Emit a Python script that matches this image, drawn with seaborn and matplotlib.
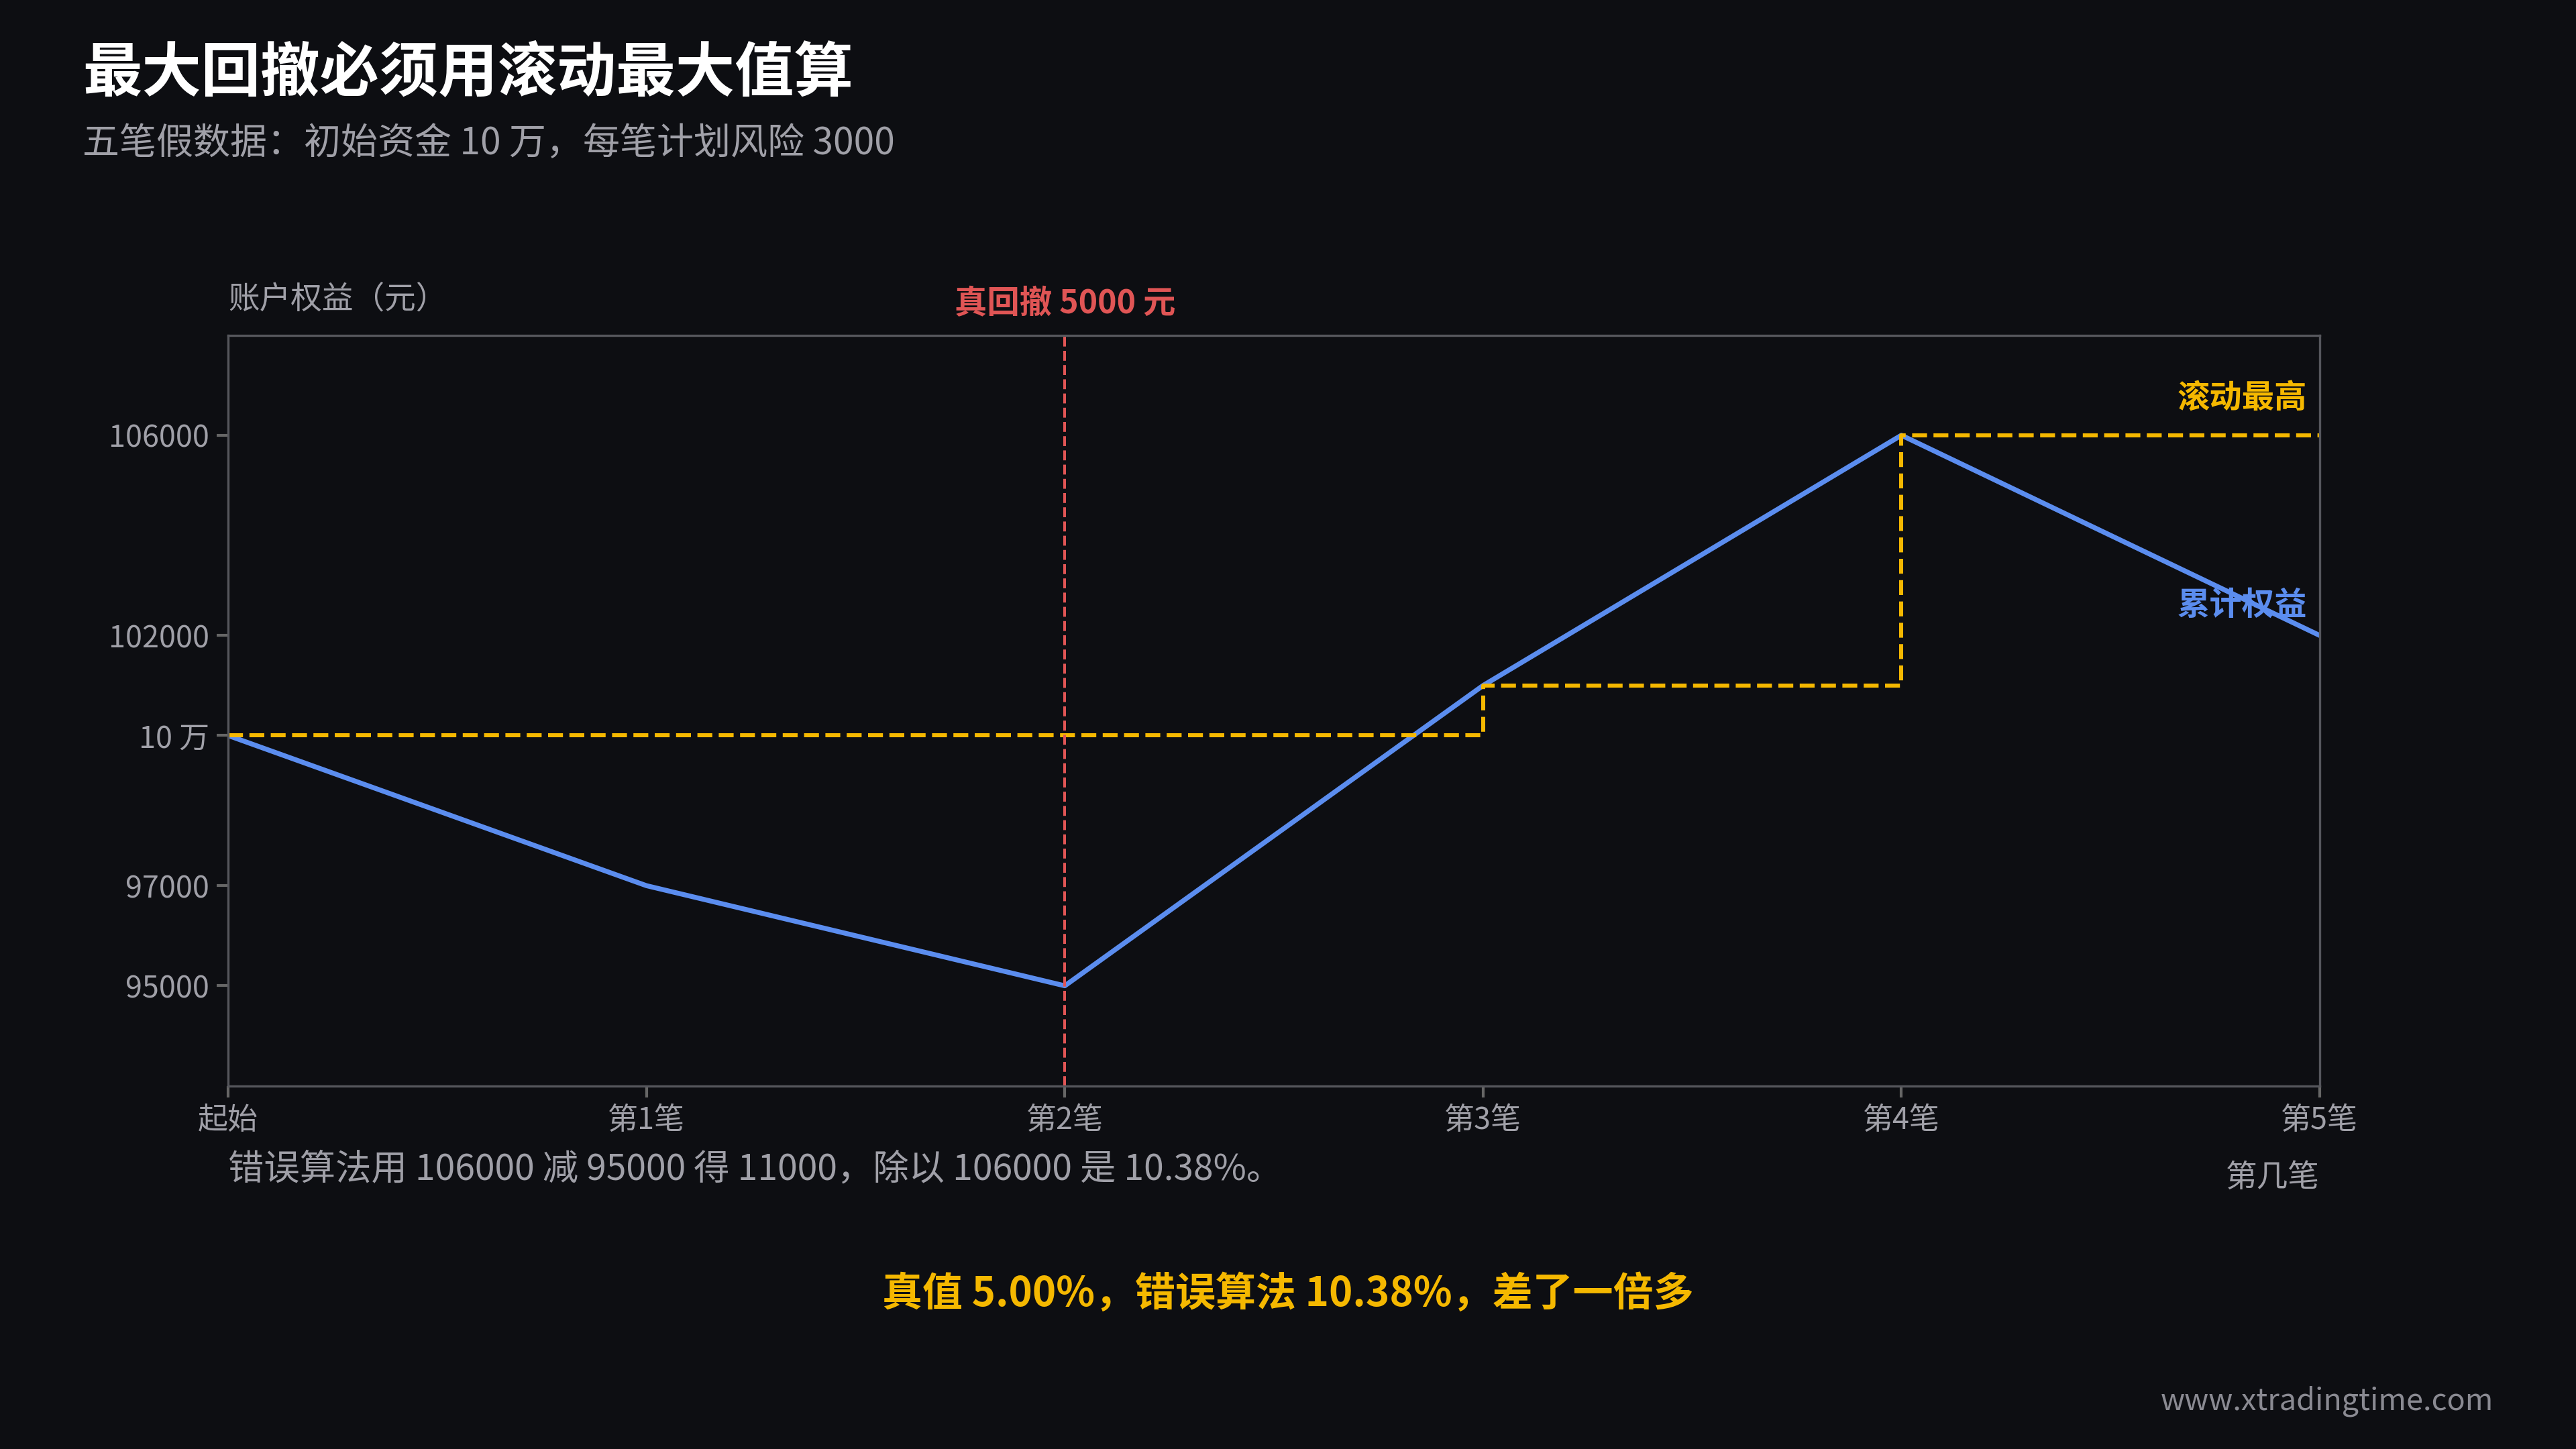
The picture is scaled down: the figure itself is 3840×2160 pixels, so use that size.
import matplotlib
matplotlib.use("Agg")
import matplotlib.pyplot as plt
import seaborn as sns
import pandas as pd

# Data
labels = ["起始", "第1笔", "第2笔", "第3笔", "第4笔", "第5笔"]
equity = [100000, 97000, 95000, 101000, 106000, 102000]
rolling_max = [100000, 100000, 100000, 101000, 106000, 106000]
yticks = [95000, 97000, 100000, 102000, 106000]
ytick_labels = ["95000", "97000", "10 万", "102000", "106000"]

bg = "#0d0e12"
blue = "#5b8def"
orange = "#f5b800"
red = "#e05555"
grey = "#a0a0a8"

sns.set_theme(style="dark")
plt.rcParams["font.family"] = ["Noto Sans CJK SC", "DejaVu Sans"]

df = pd.DataFrame({"x": range(len(labels)), "equity": equity, "peak": rolling_max})

fig = plt.figure(figsize=(16, 9), dpi=240, facecolor=bg)
ax = fig.add_axes([0.0886, 0.2506, 0.9005 - 0.0886, 0.7687 - 0.2506])
ax.set_facecolor(bg)

sns.lineplot(data=df, x="x", y="equity", ax=ax, color=blue, linewidth=2.2)
ax.step(df["x"], df["peak"], where="post", color=orange, linewidth=1.8, linestyle="--")
ax.axvline(2, color=red, linestyle="--", linewidth=1.2)

ax.set_xlim(0, 5)
ax.set_ylim(93000, 108000)
ax.set_xticks(range(len(labels)))
ax.set_xticklabels(labels)
ax.set_yticks(yticks)
ax.set_yticklabels(ytick_labels)
ax.tick_params(colors=grey, labelsize=13.5, length=5, color="#666", direction="out")
ax.tick_params(axis="both", which="both", bottom=True, left=True)
ax.set_xlabel("")
ax.set_ylabel("")
ax.grid(False)
for s in ax.spines.values():
    s.set_color("#55565c")
    s.set_linewidth(1)

ax.text(4.97, 106400, "滚动最高", color=orange, fontsize=14.5, fontweight="bold", ha="right", va="bottom")
ax.text(4.97, 102600, "累计权益", color=blue, fontsize=14.5, fontweight="bold", ha="right", va="center")
ax.text(2, 108300, "真回撤 5000 元", color=red, fontsize=14.5, fontweight="bold", ha="center", va="bottom")

fig.text(0.032, 0.949, "最大回撤必须用滚动最大值算", color="white", fontsize=26.5, fontweight="bold", va="center")
fig.text(0.032, 0.901, "五笔假数据：初始资金 10 万，每笔计划风险 3000", color=grey, fontsize=16.5, va="center")
fig.text(0.0886, 0.793, "账户权益（元）", color=grey, fontsize=14, va="center")
fig.text(0.9005, 0.187, "第几笔", color=grey, fontsize=14, ha="right", va="center")
fig.text(0.0886, 0.193, "错误算法用 106000 减 95000 得 11000，除以 106000 是 10.38%。", color=grey, fontsize=16, va="center")
fig.text(0.5, 0.107, "真值 5.00%，错误算法 10.38%，差了一倍多", color=orange, fontsize=18, fontweight="bold", ha="center", va="center")
fig.text(0.968, 0.033, "www.xtradingtime.com", color="#8a8a92", fontsize=13.5, ha="right", va="center")

fig.savefig("out.png", dpi=240, facecolor=bg)
